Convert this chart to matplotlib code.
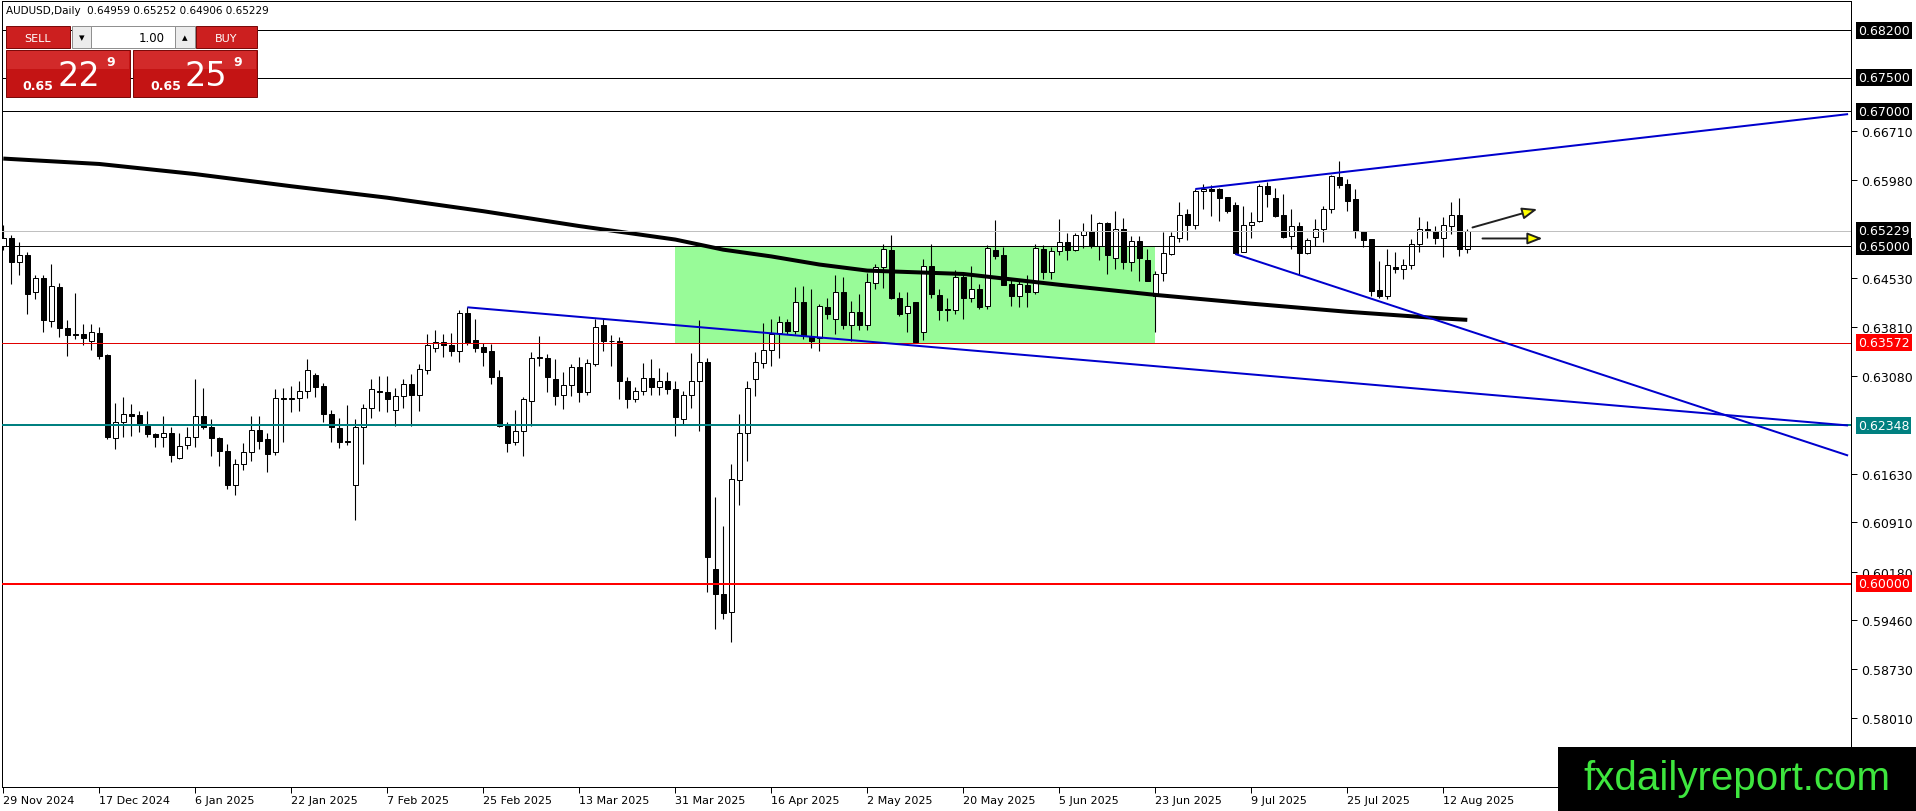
import matplotlib
matplotlib.use("Agg")
import matplotlib.pyplot as plt
from matplotlib.patches import Rectangle
from matplotlib.transforms import blended_transform_factory

# ---- data (bar index 0 = 29 Nov 2024) ----
opens = [0.6500, 0.6513, 0.6476, 0.6487, 0.6432, 0.6453, 0.6390, 0.6439, 0.6379, 0.6370,
         0.6370, 0.6359, 0.6372, 0.6339, 0.6216, 0.6239, 0.6251, 0.6250, 0.6233, 0.6222,
         0.6218, 0.6223, 0.6187, 0.6205, 0.6218, 0.6248, 0.6232, 0.6216, 0.6196, 0.6146,
         0.6178, 0.6195, 0.6228, 0.6214, 0.6195, 0.6275, 0.6274, 0.6275, 0.6285, 0.6309,
         0.6293, 0.6252, 0.6231, 0.6212, 0.6146, 0.6232, 0.6260, 0.6285, 0.6284, 0.6258,
         0.6278, 0.6296, 0.6280, 0.6317, 0.6350, 0.6358, 0.6354, 0.6345, 0.6401, 0.6361,
         0.6351, 0.6345, 0.6306, 0.6235, 0.6210, 0.6226, 0.6271, 0.6336, 0.6334, 0.6304,
         0.6279, 0.6294, 0.6321, 0.6284, 0.6326, 0.6383, 0.6360, 0.6359, 0.6300, 0.6273,
         0.6285, 0.6305, 0.6292, 0.6301, 0.6288, 0.6244, 0.6279, 0.6300, 0.6329, 0.6022,
         0.5985, 0.5958, 0.6154, 0.6224, 0.6304, 0.6327, 0.6346, 0.6372, 0.6388, 0.6375,
         0.6417, 0.6367, 0.6364, 0.6410, 0.6393, 0.6432, 0.6384, 0.6402, 0.6384, 0.6445,
         0.6469, 0.6495, 0.6424, 0.6401, 0.6417, 0.6373, 0.6471, 0.6428, 0.6407, 0.6405,
         0.6455, 0.6424, 0.6437, 0.6411, 0.6494, 0.6487, 0.6444, 0.6427, 0.6443, 0.6432,
         0.6496, 0.6462, 0.6493, 0.6506, 0.6495, 0.6517, 0.6523, 0.6501, 0.6535, 0.6482,
         0.6525, 0.6477, 0.6508, 0.6479, 0.6427, 0.6460, 0.6489, 0.6512, 0.6548, 0.6532,
         0.6582, 0.6585, 0.6585, 0.6573, 0.6561, 0.6492, 0.6531, 0.6537, 0.6589, 0.6571,
         0.6546, 0.6515, 0.6530, 0.6490, 0.6514, 0.6525, 0.6556, 0.6602, 0.6592, 0.6570,
         0.6523, 0.6511, 0.6435, 0.6426, 0.6470, 0.6467, 0.6473, 0.6503, 0.6525, 0.6523,
         0.6513, 0.6530, 0.6547, 0.64959]
highs = [0.6531, 0.6517, 0.6506, 0.6491, 0.6458, 0.6457, 0.6474, 0.6446, 0.6391, 0.6431,
         0.6385, 0.6385, 0.6380, 0.6341, 0.6268, 0.6276, 0.6266, 0.6256, 0.6256, 0.6224,
         0.6249, 0.6232, 0.6224, 0.6232, 0.6304, 0.6290, 0.6244, 0.6217, 0.6207, 0.6185,
         0.6209, 0.6249, 0.6249, 0.6224, 0.6289, 0.6290, 0.6293, 0.6301, 0.6333, 0.6312,
         0.6297, 0.6257, 0.6246, 0.6265, 0.6244, 0.6267, 0.6304, 0.6308, 0.6308, 0.6290,
         0.6304, 0.6311, 0.6326, 0.6370, 0.6376, 0.6370, 0.6372, 0.6406, 0.6410, 0.6393,
         0.6357, 0.6355, 0.6317, 0.6239, 0.6257, 0.6276, 0.6344, 0.6367, 0.6340, 0.6333,
         0.6313, 0.6326, 0.6336, 0.6333, 0.6392, 0.6392, 0.6368, 0.6365, 0.6307, 0.6291,
         0.6327, 0.6333, 0.6319, 0.6313, 0.6301, 0.6285, 0.6342, 0.6391, 0.6334, 0.6128,
         0.6086, 0.6177, 0.6251, 0.6301, 0.6344, 0.6386, 0.6393, 0.6397, 0.6392, 0.6439,
         0.6441, 0.6437, 0.6415, 0.6423, 0.6458, 0.6455, 0.6419, 0.6429, 0.6460, 0.6474,
         0.6503, 0.6517, 0.6432, 0.6433, 0.6417, 0.6481, 0.6503, 0.6437, 0.6424, 0.6465,
         0.6459, 0.6471, 0.6444, 0.6502, 0.6539, 0.6499, 0.6453, 0.6452, 0.6457, 0.6503,
         0.6502, 0.6499, 0.6541, 0.6519, 0.6519, 0.6534, 0.6548, 0.6536, 0.6536, 0.6553,
         0.6542, 0.6516, 0.6515, 0.6496, 0.6464, 0.6521, 0.6521, 0.6565, 0.6555, 0.6585,
         0.6592, 0.6591, 0.6587, 0.6573, 0.6566, 0.6559, 0.6551, 0.6592, 0.6595, 0.6587,
         0.6578, 0.6556, 0.6536, 0.6513, 0.6540, 0.6559, 0.6605, 0.6627, 0.6600, 0.6585,
         0.6523, 0.6511, 0.6478, 0.6496, 0.6491, 0.6481, 0.6511, 0.6543, 0.6538, 0.6530,
         0.6543, 0.6565, 0.6571, 0.65252]
lows = [0.6494, 0.6444, 0.6457, 0.6400, 0.6422, 0.6373, 0.6380, 0.6365, 0.6338, 0.6362,
        0.6353, 0.6347, 0.6333, 0.6214, 0.6200, 0.6217, 0.6219, 0.6225, 0.6218, 0.6202,
        0.6203, 0.6180, 0.6185, 0.6200, 0.6203, 0.6229, 0.6189, 0.6175, 0.6140, 0.6132,
        0.6169, 0.6182, 0.6200, 0.6165, 0.6190, 0.6210, 0.6254, 0.6256, 0.6275, 0.6276,
        0.6239, 0.6210, 0.6201, 0.6205, 0.6094, 0.6177, 0.6246, 0.6256, 0.6255, 0.6234,
        0.6261, 0.6234, 0.6256, 0.6311, 0.6344, 0.6336, 0.6338, 0.6329, 0.6353, 0.6344,
        0.6323, 0.6296, 0.6232, 0.6195, 0.6205, 0.6189, 0.6234, 0.6323, 0.6284, 0.6265,
        0.6259, 0.6278, 0.6270, 0.6279, 0.6323, 0.6345, 0.6322, 0.6273, 0.6260, 0.6269,
        0.6279, 0.6279, 0.6280, 0.6281, 0.6219, 0.6235, 0.6260, 0.6227, 0.5987, 0.5933,
        0.5948, 0.5914, 0.6117, 0.6182, 0.6278, 0.6319, 0.6323, 0.6335, 0.6370, 0.6370,
        0.6363, 0.6350, 0.6345, 0.6392, 0.6370, 0.6377, 0.6359, 0.6376, 0.6376, 0.6436,
        0.6438, 0.6422, 0.6396, 0.6373, 0.6357, 0.6361, 0.6424, 0.6391, 0.6390, 0.6400,
        0.6392, 0.6417, 0.6407, 0.6407, 0.6481, 0.6442, 0.6411, 0.6410, 0.6410, 0.6430,
        0.6452, 0.6452, 0.6487, 0.6480, 0.6493, 0.6497, 0.6497, 0.6479, 0.6459, 0.6466,
        0.6466, 0.6464, 0.6449, 0.6448, 0.6373, 0.6449, 0.6487, 0.6506, 0.6510, 0.6525,
        0.6555, 0.6545, 0.6538, 0.6550, 0.6489, 0.6491, 0.6512, 0.6536, 0.6558, 0.6544,
        0.6513, 0.6496, 0.6458, 0.6488, 0.6501, 0.6506, 0.6550, 0.6586, 0.6553, 0.6513,
        0.6499, 0.6427, 0.6424, 0.6422, 0.6461, 0.6451, 0.6466, 0.6491, 0.6513, 0.6503,
        0.6484, 0.6518, 0.6485, 0.64906]
closes = [0.6513, 0.6476, 0.6487, 0.6429, 0.6453, 0.6391, 0.6441, 0.6379, 0.6369, 0.6369,
          0.6364, 0.6373, 0.6338, 0.6218, 0.6239, 0.6251, 0.6249, 0.6236, 0.6222, 0.6218,
          0.6223, 0.6190, 0.6204, 0.6218, 0.6248, 0.6232, 0.6216, 0.6197, 0.6147, 0.6178,
          0.6195, 0.6228, 0.6212, 0.6192, 0.6275, 0.6274, 0.6275, 0.6285, 0.6316, 0.6292,
          0.6252, 0.6232, 0.6210, 0.6210, 0.6232, 0.6260, 0.6289, 0.6284, 0.6273, 0.6278,
          0.6296, 0.6279, 0.6318, 0.6354, 0.6358, 0.6353, 0.6345, 0.6401, 0.6357, 0.6350,
          0.6344, 0.6306, 0.6234, 0.6208, 0.6226, 0.6274, 0.6335, 0.6334, 0.6307, 0.6278,
          0.6295, 0.6321, 0.6284, 0.6327, 0.6381, 0.6360, 0.6359, 0.6300, 0.6273, 0.6285,
          0.6305, 0.6292, 0.6301, 0.6288, 0.6247, 0.6279, 0.6300, 0.6329, 0.6040, 0.5984,
          0.5956, 0.6155, 0.6224, 0.6290, 0.6328, 0.6346, 0.6370, 0.6388, 0.6375, 0.6417,
          0.6367, 0.6360, 0.6411, 0.6399, 0.6433, 0.6384, 0.6402, 0.6384, 0.6447, 0.6469,
          0.6496, 0.6423, 0.6400, 0.6412, 0.6358, 0.6471, 0.6429, 0.6406, 0.6405, 0.6455,
          0.6424, 0.6437, 0.6410, 0.6497, 0.6486, 0.6443, 0.6427, 0.6444, 0.6433, 0.6497,
          0.6462, 0.6493, 0.6506, 0.6495, 0.6517, 0.6523, 0.6500, 0.6535, 0.6487, 0.6525,
          0.6476, 0.6508, 0.6482, 0.6449, 0.6459, 0.6490, 0.6515, 0.6547, 0.6532, 0.6582,
          0.6585, 0.6582, 0.6572, 0.6553, 0.6490, 0.6531, 0.6536, 0.6589, 0.6578, 0.6545,
          0.6514, 0.6530, 0.6490, 0.6509, 0.6525, 0.6556, 0.6604, 0.6591, 0.6567, 0.6522,
          0.6510, 0.6434, 0.6426, 0.6473, 0.6467, 0.6473, 0.6503, 0.6525, 0.6523, 0.6513,
          0.6531, 0.6546, 0.6496, 0.65229]

# slow moving average (black), read at selected bars
ma_bars = [0, 12, 24, 36, 48, 60, 72, 84, 90, 96, 102, 108, 120, 132, 144, 156, 168, 180, 183]
ma_vals = [0.6630, 0.6622, 0.6607, 0.6589, 0.6572, 0.6552, 0.6530, 0.6510, 0.6495, 0.6485,
           0.6473, 0.6464, 0.6459, 0.6443, 0.6428, 0.6415, 0.6403, 0.6393, 0.6391]

# trend lines: (bar, price) start and end
tl_feb = [(58, 0.64096), (230.6, 0.62345)]
tl_top = [(149, 0.65849), (230.6, 0.66959)]
tl_low = [(154, 0.64886), (230.6, 0.61899)]

# green zone
zone_bars = (84, 144)
zone_prices = (0.63572, 0.65000)

# yellow arrows
arrows = [((183.65, 0.65279), (191.75, 0.65550)),
          ((184.9, 0.65116), (192.4, 0.65116))]

# horizontal levels: price, colour, width(px), label box colour
levels = [(0.68200, "black", 1, "black"),
          (0.67500, "black", 1, "black"),
          (0.67000, "black", 1, "black"),
          (0.65229, "#c0c0c0", 1, "black"),
          (0.65000, "black", 1, "black"),
          (0.63572, "#e00000", 1, "#ff0000"),
          (0.62348, "#008080", 2, "#008080"),
          (0.60000, "#ff0000", 2, "#ff0000")]

price_ticks = [0.66710, 0.65980, 0.64530, 0.63810, 0.63080, 0.61630, 0.60910,
               0.60180, 0.59460, 0.58730, 0.58010]
date_bars = [0, 12, 24, 36, 48, 60, 72, 84, 96, 108, 120, 132, 144, 156, 168, 180]
date_labels = ["29 Nov 2024", "17 Dec 2024", "6 Jan 2025", "22 Jan 2025", "7 Feb 2025",
               "25 Feb 2025", "13 Mar 2025", "31 Mar 2025", "16 Apr 2025", "2 May 2025",
               "20 May 2025", "5 Jun 2025", "23 Jun 2025", "9 Jul 2025", "25 Jul 2025",
               "12 Aug 2025"]

# ---- layout in pixels ----
W, H = 1916, 812
PX = 0.72  # one pixel in points at 100 dpi
ax_l, ax_r, ax_t, ax_b = 2, 1851, 2, 788
bar_px = 8.0
x0_px = 3.3
px_per_price = 6748.0
y65_px = 247.3

fig = plt.figure(figsize=(W / 100, H / 100), dpi=100)
fig.patch.set_facecolor("white")
ax = fig.add_axes([ax_l / W, 1 - ax_b / H, (ax_r - ax_l) / W, (ax_b - ax_t) / H])
ax.set_xlim((ax_l - x0_px) / bar_px, (ax_r - x0_px) / bar_px)
ax.set_ylim(0.65 - (ax_b - y65_px) / px_per_price, 0.65 + (y65_px - ax_t) / px_per_price)
for s in ax.spines.values():
    s.set_color("black")
    s.set_linewidth(PX)

# green zone behind candles
ax.add_patch(Rectangle((zone_bars[0], zone_prices[0]), zone_bars[1] - zone_bars[0],
                       zone_prices[1] - zone_prices[0], facecolor="#98fb98",
                       edgecolor="none", zorder=1))

# candles
n = len(opens)
xs = list(range(n))
ax.vlines(xs, lows, highs, color="black", linewidth=PX * 1.1, zorder=3)
for i in xs:
    o, c = opens[i], closes[i]
    lo = min(o, c)
    h = max(abs(c - o), 0.00002)
    fc = "white" if c >= o else "black"
    ax.bar(i, h, bottom=lo, width=0.62, facecolor=fc, edgecolor="black",
           linewidth=PX, zorder=4)

# moving average
ax.plot(ma_bars, ma_vals, color="black", linewidth=4 * PX, zorder=5,
        solid_capstyle="butt")

# horizontal levels
for p, col, lw, _ in levels:
    ax.axhline(p, color=col, linewidth=lw * PX, zorder=6)

# trend lines
for tl in (tl_feb, tl_top, tl_low):
    ax.plot([tl[0][0], tl[1][0]], [tl[0][1], tl[1][1]], color="#0000cd",
            linewidth=2 * PX, zorder=7, solid_capstyle="butt")

# yellow arrows
for (xa, ya), (xb, yb) in arrows:
    ax.annotate("", xy=(xb, yb), xytext=(xa, ya), zorder=8,
                arrowprops=dict(arrowstyle="-|>,head_length=0.9,head_width=0.35",
                                facecolor="yellow", edgecolor="#202020",
                                linewidth=1.4, mutation_scale=10,
                                shrinkA=0, shrinkB=0))

# axes ticks
ax.yaxis.tick_right()
ax.set_yticks(price_ticks)
ax.set_yticklabels(["%.5f" % v for v in price_ticks])
ax.tick_params(axis="y", direction="out", length=4, width=PX, pad=3,
               labelsize=9, colors="black")
ax.set_xticks(date_bars)
ax.set_xticklabels(date_labels, ha="left")
ax.tick_params(axis="x", direction="out", length=4, width=PX, pad=2,
               labelsize=8, colors="black")

# boxed level labels on the price scale
lab_tr = blended_transform_factory(fig.transFigure, ax.transData)
for p, col, lw, box in levels:
    ax.text(1858 / W, p, "%.5f" % p, transform=lab_tr, fontsize=9, color="white",
            va="center", ha="left", clip_on=False, zorder=10,
            bbox=dict(boxstyle="square,pad=0.15", facecolor=box, edgecolor="none"))

# ---- overlay in pixel coordinates ----
ov = fig.add_axes([0, 0, 1, 1], facecolor="none")
ov.set_xlim(0, W)
ov.set_ylim(H, 0)
ov.axis("off")

ov.text(6, 11, "AUDUSD,Daily  0.64959 0.65252 0.64906 0.65229", fontsize=7.5,
        va="center", ha="left", color="black")

red = "#cc1f1f"
dark = "#7a0a0a"
ov.add_patch(Rectangle((6, 27), 64, 22, facecolor=red, edgecolor=dark, lw=PX))
ov.text(38, 38.5, "SELL", color="white", fontsize=8, ha="center", va="center")
ov.add_patch(Rectangle((72, 27), 19, 22, facecolor="#ececec", edgecolor="#909090", lw=PX))
ov.text(81.5, 38.5, "\u25BE", color="black", fontsize=8, ha="center", va="center")
ov.add_patch(Rectangle((91, 27), 84, 22, facecolor="white", edgecolor="#909090", lw=PX))
ov.text(152, 38.5, "1.00", color="black", fontsize=8.5, ha="center", va="center")
ov.add_patch(Rectangle((175, 27), 20, 22, facecolor="#ececec", edgecolor="#909090", lw=PX))
ov.text(185, 38.5, "\u25B4", color="black", fontsize=8, ha="center", va="center")
ov.add_patch(Rectangle((196, 27), 61, 22, facecolor=red, edgecolor=dark, lw=PX))
ov.text(226, 38.5, "BUY", color="white", fontsize=8, ha="center", va="center")

for bx, big, xs_small, xs_big, xs_sup in [(6, "22", 22, 58, 106), (133, "25", 150, 185, 233)]:
    ov.add_patch(Rectangle((bx, 51), 124, 47, facecolor="#c41414", edgecolor=dark, lw=PX))
    ov.add_patch(Rectangle((bx + 1, 52), 122, 18, facecolor="#d22a2a", edgecolor="none"))
    ov.text(xs_small, 86, "0.65", color="white", fontsize=9, fontweight="bold",
            ha="left", va="center")
    ov.text(xs_big, 76, big, color="white", fontsize=24, ha="left", va="center")
    ov.text(xs_sup, 63, "9", color="white", fontsize=9, fontweight="bold",
            ha="left", va="center")

# logo
ov.add_patch(Rectangle((1558, 748), 358, 64, facecolor="black", edgecolor="none"))
ov.text(1737, 779, "fxdailyreport.com", color="#3ee63e", fontsize=29,
        family="Liberation Sans", ha="center", va="center")

fig.savefig("out.png", dpi=100, facecolor="white")
